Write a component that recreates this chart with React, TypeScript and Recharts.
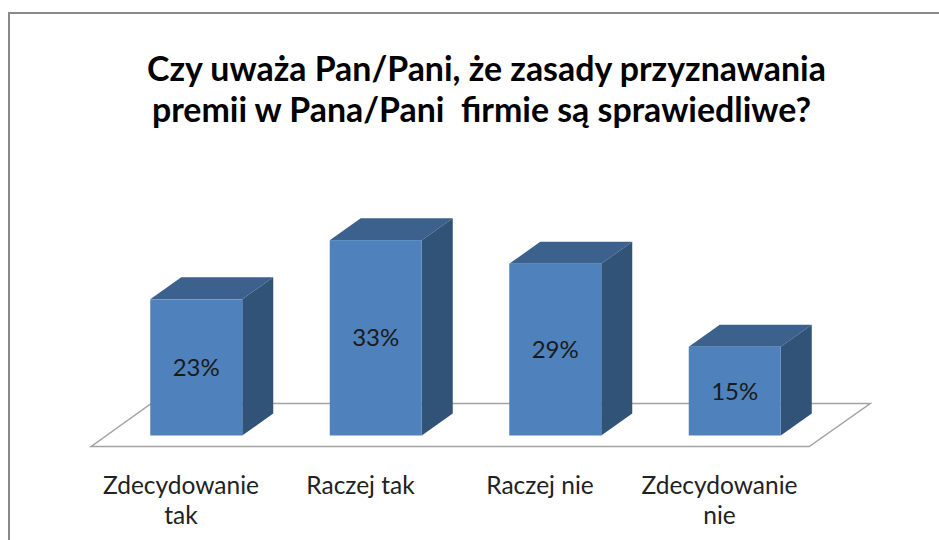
import { BarChart, Bar, XAxis, YAxis, LabelList, Customized } from "recharts";

const categories = ["Zdecydowanie tak", "Raczej tak", "Raczej nie", "Zdecydowanie nie"];
const tickLines = [["Zdecydowanie", "tak"], ["Raczej tak"], ["Raczej nie"], ["Zdecydowanie", "nie"]];
const values = [23, 33, 29, 15];
const titleLines = [
  "Czy uważa Pan/Pani, że zasady przyznawania",
  "premii w Pana/Pani  firmie są sprawiedliwe?",
];

const data = categories.map((name, i) => ({ name, value: values[i] }));

const FONT = "Lato, 'Open Sans', sans-serif";
const DEPTH_X = 31;
const DEPTH_Y = 22;

// fake 3D column: front face plus top and side polygons
function Column(props: any) {
  const { x, y, width, height } = props;
  const r = x + width;
  const b = y + height;
  return (
    <g>
      <polygon
        points={`${x},${y} ${r},${y} ${r + DEPTH_X},${y - DEPTH_Y} ${x + DEPTH_X},${y - DEPTH_Y}`}
        fill="#3c618d"
      />
      <polygon
        points={`${r},${y} ${r + DEPTH_X},${y - DEPTH_Y} ${r + DEPTH_X},${b - DEPTH_Y} ${r},${b}`}
        fill="#315378"
      />
      <rect x={x} y={y} width={width} height={height} fill="#4f81bd" />
    </g>
  );
}

// floor under the columns, placed relative to the plot area
function Floor(props: any) {
  const plot = props.offset ?? { left: 106.25, width: 718, top: 198.7, height: 236.8 };
  const left = plot.left - 15;
  const right = plot.left + plot.width - 15;
  const front = plot.top + plot.height + 11;
  const back = front - 43;
  return (
    <polygon
      points={`${left},${front} ${right},${front} ${right + 61},${back} ${left + 60},${back}`}
      fill="#fff"
      stroke="#a3a3a3"
      strokeWidth={1.5}
    />
  );
}

function Title() {
  return (
    <g fontFamily={FONT} fontWeight={700} fontSize={33.9} fill="#000" textAnchor="middle">
      <text x={486.5} y={81} style={{ whiteSpace: "pre" }}>{titleLines[0]}</text>
      <text x={481.5} y={122} style={{ whiteSpace: "pre" }}>{titleLines[1]}</text>
    </g>
  );
}

function CategoryTick(props: any) {
  const { x, y, payload } = props;
  const lines = tickLines[payload.index] ?? [payload.value];
  return (
    <text x={x - 15} y={y + 16} textAnchor="middle" fontFamily={FONT} fontSize={24.5} fill="#222">
      {lines.map((line, i) => (
        <tspan key={line} x={x - 15} dy={i === 0 ? 0 : 30}>
          {line}
        </tspan>
      ))}
    </text>
  );
}

export default function App() {
  return (
    <div style={{ position: "absolute", left: 0, top: 0, width: 939, height: 540, background: "#fff", overflow: "hidden" }}>
      <div
        style={{
          position: "absolute",
          left: 8,
          top: 12,
          width: 940,
          height: 540,
          borderTop: "2px solid #8a8a8a",
          borderLeft: "2px solid #8a8a8a",
        }}
      />
      <BarChart
        width={939}
        height={540}
        data={data}
        margin={{ top: 198.7, right: 114.75, bottom: 0, left: 106.25 }}
        barSize={92}
        style={{ position: "absolute", left: 0, top: 0 }}
      >
        <Customized component={Floor} />
        <Customized component={Title} />
        <XAxis
          dataKey="name"
          interval={0}
          axisLine={false}
          tickLine={false}
          tick={<CategoryTick />}
          tickMargin={36}
          height={104.5}
        />
        <YAxis hide domain={[0, 40]} />
        <Bar dataKey="value" shape={<Column />} isAnimationActive={false}>
          <LabelList
            dataKey="value"
            position="center"
            formatter={(v: number) => `${v}%`}
            fill="#1a1a1a"
            fontFamily={FONT}
            fontSize={24}
          />
        </Bar>
      </BarChart>
    </div>
  );
}
